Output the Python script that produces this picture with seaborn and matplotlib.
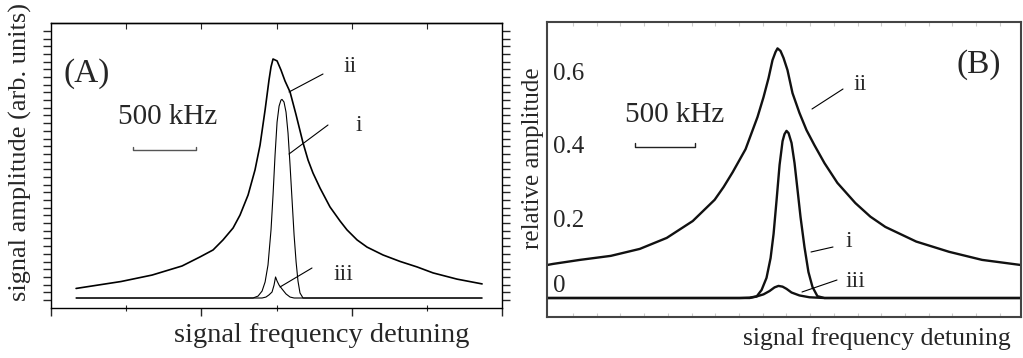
import numpy as np
import pandas as pd
import matplotlib
matplotlib.use("Agg")
import matplotlib.pyplot as plt
import seaborn as sns

# ---------------- data ----------------
# Panel A : detuning in kHz, amplitude in arb. units (curve ii peak = 1)
a_ii_x = [-1563, -1206, -960, -722, -579, -476, -397, -317, -262, -198, -143,
          -103, -63, -32, -16, 0, 32, 63, 95, 135, 183, 238, 278, 317, 373, 452,
          532, 587, 667, 746, 873, 1008, 1143, 1270, 1460, 1659]
a_ii_y = [0.040, 0.069, 0.096, 0.134, 0.172, 0.201, 0.243, 0.293, 0.347, 0.431,
          0.536, 0.640, 0.787, 0.912, 0.967, 1.000, 0.992, 0.954, 0.908, 0.862,
          0.766, 0.649, 0.577, 0.523, 0.460, 0.381, 0.322, 0.285, 0.243, 0.213,
          0.180, 0.153, 0.130, 0.105, 0.079, 0.059]
a_i_x = [-1563, -159, -119, -87, -63, -40, -16, 0, 16, 32, 48, 63, 71, 87, 103,
         119, 135, 151, 167, 183, 198, 214, 238, 1659]
a_i_y = [0, 0, 0.008, 0.029, 0.067, 0.138, 0.285, 0.431, 0.598, 0.736, 0.803,
         0.828, 0.831, 0.820, 0.778, 0.690, 0.556, 0.410, 0.264, 0.151, 0.071,
         0.021, 0, 0]
a_iii_x = [-1563, -87, -56, -32, -8, 8, 20, 32, 48, 71, 103, 135, 167, 1659]
a_iii_y = [0, 0, 0.004, 0.013, 0.025, 0.054, 0.088, 0.071, 0.054, 0.038, 0.017,
           0.004, 0, 0]

# Panel B : detuning in kHz, relative amplitude
b_ii_x = [-1925, -1875, -1650, -1392, -1150, -925, -708, -525, -450, -375, -267,
          -167, -117, -75, -42, -17, 0, 25, 50, 83, 125, 183, 242, 308, 392, 500,
          650, 775, 900, 1158, 1433, 1708, 2033]
b_ii_y = [0.090, 0.093, 0.104, 0.115, 0.134, 0.164, 0.210, 0.268, 0.303, 0.343,
          0.406, 0.494, 0.548, 0.600, 0.649, 0.671, 0.681, 0.674, 0.655, 0.622,
          0.559, 0.505, 0.458, 0.417, 0.368, 0.314, 0.259, 0.222, 0.194, 0.154,
          0.126, 0.104, 0.090]
b_i_x = [-1925, -233, -175, -133, -92, -58, -33, -8, 17, 42, 58, 75, 92, 117,
         142, 167, 192, 225, 258, 292, 333, 392, 2033]
b_i_y = [0, 0, 0.004, 0.022, 0.055, 0.109, 0.175, 0.267, 0.363, 0.428, 0.447,
         0.456, 0.450, 0.423, 0.368, 0.295, 0.221, 0.139, 0.071, 0.030, 0.005, 0, 0]
b_iii_x = [-1925, -317, -233, -167, -117, -67, -25, 8, 42, 75, 117, 183, 267,
           392, 2033]
b_iii_y = [0, 0, 0.001, 0.005, 0.010, 0.019, 0.029, 0.033, 0.031, 0.025, 0.015,
           0.007, 0.002, 0, 0]

b_ytick_vals = [0, 0.2, 0.4, 0.6]
b_ytick_labels = ["0", "0.2", "0.4", "0.6"]
scale_khz = 500
curve_names = ["i", "ii", "iii"]

# ---------------- style ----------------
sns.set_style("white")
plt.rcParams["font.family"] = ["Liberation Serif", "DejaVu Serif"]

W, H = 1023, 358
fig = plt.figure(figsize=(W / 100, H / 100), dpi=100)


def rect(l, t, r, b):
    return [l / W, 1 - b / H, (r - l) / W, (b - t) / H]


def ftext(x, y, s, **kw):
    fig.text(x / W, 1 - y / H, s, **kw)


def leader(x0, y0, x1, y1, lw=0.8):
    fig.add_artist(matplotlib.lines.Line2D([x0 / W, x1 / W], [1 - y0 / H, 1 - y1 / H],
                                           color="k", lw=lw, transform=fig.transFigure))


axA = fig.add_axes(rect(51, 23, 502, 308))
axB = fig.add_axes(rect(547, 22, 1021, 317))

# ---------------- panel A ----------------
dfA = {
    "ii": pd.DataFrame({"x": a_ii_x, "y": a_ii_y}),
    "i": pd.DataFrame({"x": a_i_x, "y": a_i_y}),
    "iii": pd.DataFrame({"x": a_iii_x, "y": a_iii_y}),
}
lwA = {"ii": 1.2, "i": 0.8, "iii": 0.8}
for name in curve_names:
    sns.lineplot(data=dfA[name], x="x", y="y", ax=axA, color="k", lw=lwA[name],
                 sort=False, estimator=None)

xlimA = (-1762, 1817)
ylimA = (-0.0418, 1.1506)
axA.set_xlim(*xlimA)
axA.set_ylim(*ylimA)
axA.set_xlabel("")
axA.set_ylabel("")
for s in axA.spines.values():
    s.set_color("k")
    s.set_linewidth(1.0)

xmaj = np.linspace(xlimA[0], xlimA[1], 4)
xmin = (xmaj[:-1] + xmaj[1:]) / 2
axA.set_xticks(xmaj)
axA.set_xticks(xmin, minor=True)
axA.set_xticklabels([])
axA.tick_params(axis="x", which="major", direction="out", length=6, width=1.0,
                bottom=True, top=False, labelbottom=False)
axA.tick_params(axis="x", which="minor", direction="inout", length=5, width=0.8,
                bottom=True, top=False)
top = axA.secondary_xaxis("top")
top.set_xticks(np.sort(np.concatenate([xmaj[1:-1], xmin])))
top.set_xticklabels([])
top.tick_params(direction="in", length=4, width=0.8)
top.spines["top"].set_linewidth(1.0)

ystep = (ylimA[1] - ylimA[0]) / 285 * 7.69
ystart = ylimA[0] + (ylimA[1] - ylimA[0]) / 285 * 8
yt = ystart + ystep * np.arange(0, 36)
axA.set_yticks(yt)
axA.set_yticklabels([])
axA.tick_params(axis="y", which="major", direction="out", length=6, width=1.0,
                left=True, right=True, labelleft=False)

# scale bar A
yb = 0.619
tk = 0.014
axA.plot([-1111, -1111, -1111 + scale_khz, -1111 + scale_khz], [yb + tk, yb, yb, yb + tk],
         color="#555555", lw=1.0)

ftext(87, 74, "(A)", fontsize=24, ha="center", va="center")
ftext(168, 124, "500 kHz", fontsize=21, ha="center", va="baseline")
ftext(343, 72, "ii", fontsize=17, ha="left", va="baseline")
ftext(356, 131, "i", fontsize=17, ha="left", va="baseline")
ftext(333, 280, "iii", fontsize=17, ha="left", va="baseline")
leader(323, 74, 289, 92)
leader(328, 125, 289, 154)
leader(312, 268, 280, 287)
ftext(20, 152, "signal amplitude (arb. units)", fontsize=19, rotation=90,
      ha="center", va="center")
ftext(322, 336, "signal frequency detuning", fontsize=20.5, ha="center", va="center")

# ---------------- panel B ----------------
dfB = {
    "ii": pd.DataFrame({"x": b_ii_x, "y": b_ii_y}),
    "i": pd.DataFrame({"x": b_i_x, "y": b_i_y}),
    "iii": pd.DataFrame({"x": b_iii_x, "y": b_iii_y}),
}
for name in curve_names:
    sns.lineplot(data=dfB[name], x="x", y="y", ax=axB, color="#111111", lw=1.7,
                 sort=False, estimator=None)

xlimB = (-1925, 2033)
ylimB = (-0.0518, 0.753)
axB.set_xlim(*xlimB)
axB.set_ylim(*ylimB)
axB.set_xlabel("")
axB.set_ylabel("")
for s in axB.spines.values():
    s.set_color("#444444")
    s.set_linewidth(1.5)
axB.set_xticks([])
axB.set_yticks([])
axB.set_xticks(np.arange(-1708, 2033, 198), minor=True)
axB.tick_params(axis="x", which="minor", direction="in", length=3, width=0.8,
                color="#cccccc", bottom=True, top=True)

yoff = {0: 12, 0.2: 4, 0.4: 4, 0.6: 4}
for v, lab in zip(b_ytick_vals, b_ytick_labels):
    tr = matplotlib.transforms.offset_copy(axB.get_yaxis_transform(), fig=fig,
                                           y=yoff[v], units="dots")
    axB.text(0.013, v, lab, transform=tr, fontsize=18, ha="left", va="center")

ybB = 0.412
tkB = 0.012
axB.plot([-1192, -1192, -1192 + scale_khz, -1192 + scale_khz],
         [ybB + tkB, ybB, ybB, ybB + tkB], color="#222222", lw=1.0)

ftext(979, 65, "(B)", fontsize=24, ha="center", va="center")
ftext(675, 122, "500 kHz", fontsize=21, ha="center", va="baseline")
ftext(854, 90, "ii", fontsize=17, ha="left", va="baseline")
ftext(845, 247, "i", fontsize=17, ha="left", va="baseline")
ftext(845, 287, "iii", fontsize=17, ha="left", va="baseline")
leader(843, 89, 812, 109)
leader(833, 247, 811, 252)
leader(837, 280, 802, 292)
ftext(533, 158, "relative amplitude", fontsize=18, rotation=90, ha="center", va="center")
ftext(877, 339, "signal frequency detuning", fontsize=18.5, ha="center", va="center")

fig.savefig("out.png", dpi=100)
